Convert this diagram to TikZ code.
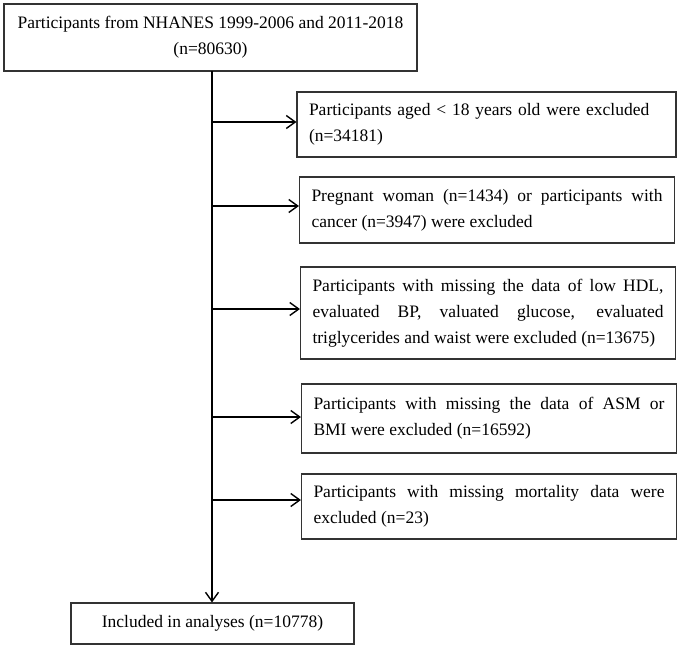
\documentclass[tikz,border=0pt]{standalone}
\usepackage{fontspec}
\setmainfont{Liberation Serif}
\usetikzlibrary{arrows.meta}
\tikzset{
  box/.style={draw=black!80, line width=1.1pt, inner xsep=12pt, inner ysep=4pt,
    font=\fontsize{17.5}{26}\selectfont, anchor=center},
  exbox/.style={box, text width=351pt, align=justify},
  arr/.style={line width=1.4pt, -{Straight Barb[length=9pt,width=13pt,line width=1.4pt]}}
}
\begin{document}
\begin{tikzpicture}[x=1pt,y=-1pt]
\useasboundingbox (0,0) rectangle (682,649);
\node[box, minimum width=413pt, minimum height=67pt, align=center] (top) at (210.5,37.5)
  {Participants from NHANES 1999-2006 and 2011-2018\\(n=80630)};
\node[box, minimum width=379pt, minimum height=65pt, text width=355pt, align=left] (b1) at (486.5,124.5)
  {Participants aged \textless{} 18 years old were excluded\\(n=34181)};
\node[exbox, minimum height=66pt] (b2) at (487,210)
  {Pregnant woman (n=1434) or participants with\linebreak cancer (n=3947) were excluded};
\node[exbox, minimum height=92pt] (b3) at (488,313)
  {Participants with missing the data of low HDL,\linebreak evaluated BP, valuated glucose, evaluated\linebreak triglycerides and waist were excluded (n=13675)};
\node[exbox, minimum height=69pt] (b4) at (489,418.5)
  {Participants with missing the data of ASM or\linebreak BMI were excluded (n=16592)};
\node[exbox, minimum height=65pt] (b5) at (489,506.5)
  {Participants with missing mortality data were\linebreak excluded (n=23)};
\node[box, minimum width=283pt, minimum height=41pt] (bot) at (212.5,623.5)
  {Included in analyses (n=10778)};
\coordinate (s0) at (212,71);
\draw[arr] (s0) -- (s0 |- bot.north);
\foreach \b/\d in {b1/2.5,b2/4,b3/4,b4/1.5,b5/6.5}{
  \coordinate (\b-in) at ([yshift=\d pt]\b.west);
  \draw[arr] (s0 |- \b-in) -- (\b-in);
}
\end{tikzpicture}
\end{document}
